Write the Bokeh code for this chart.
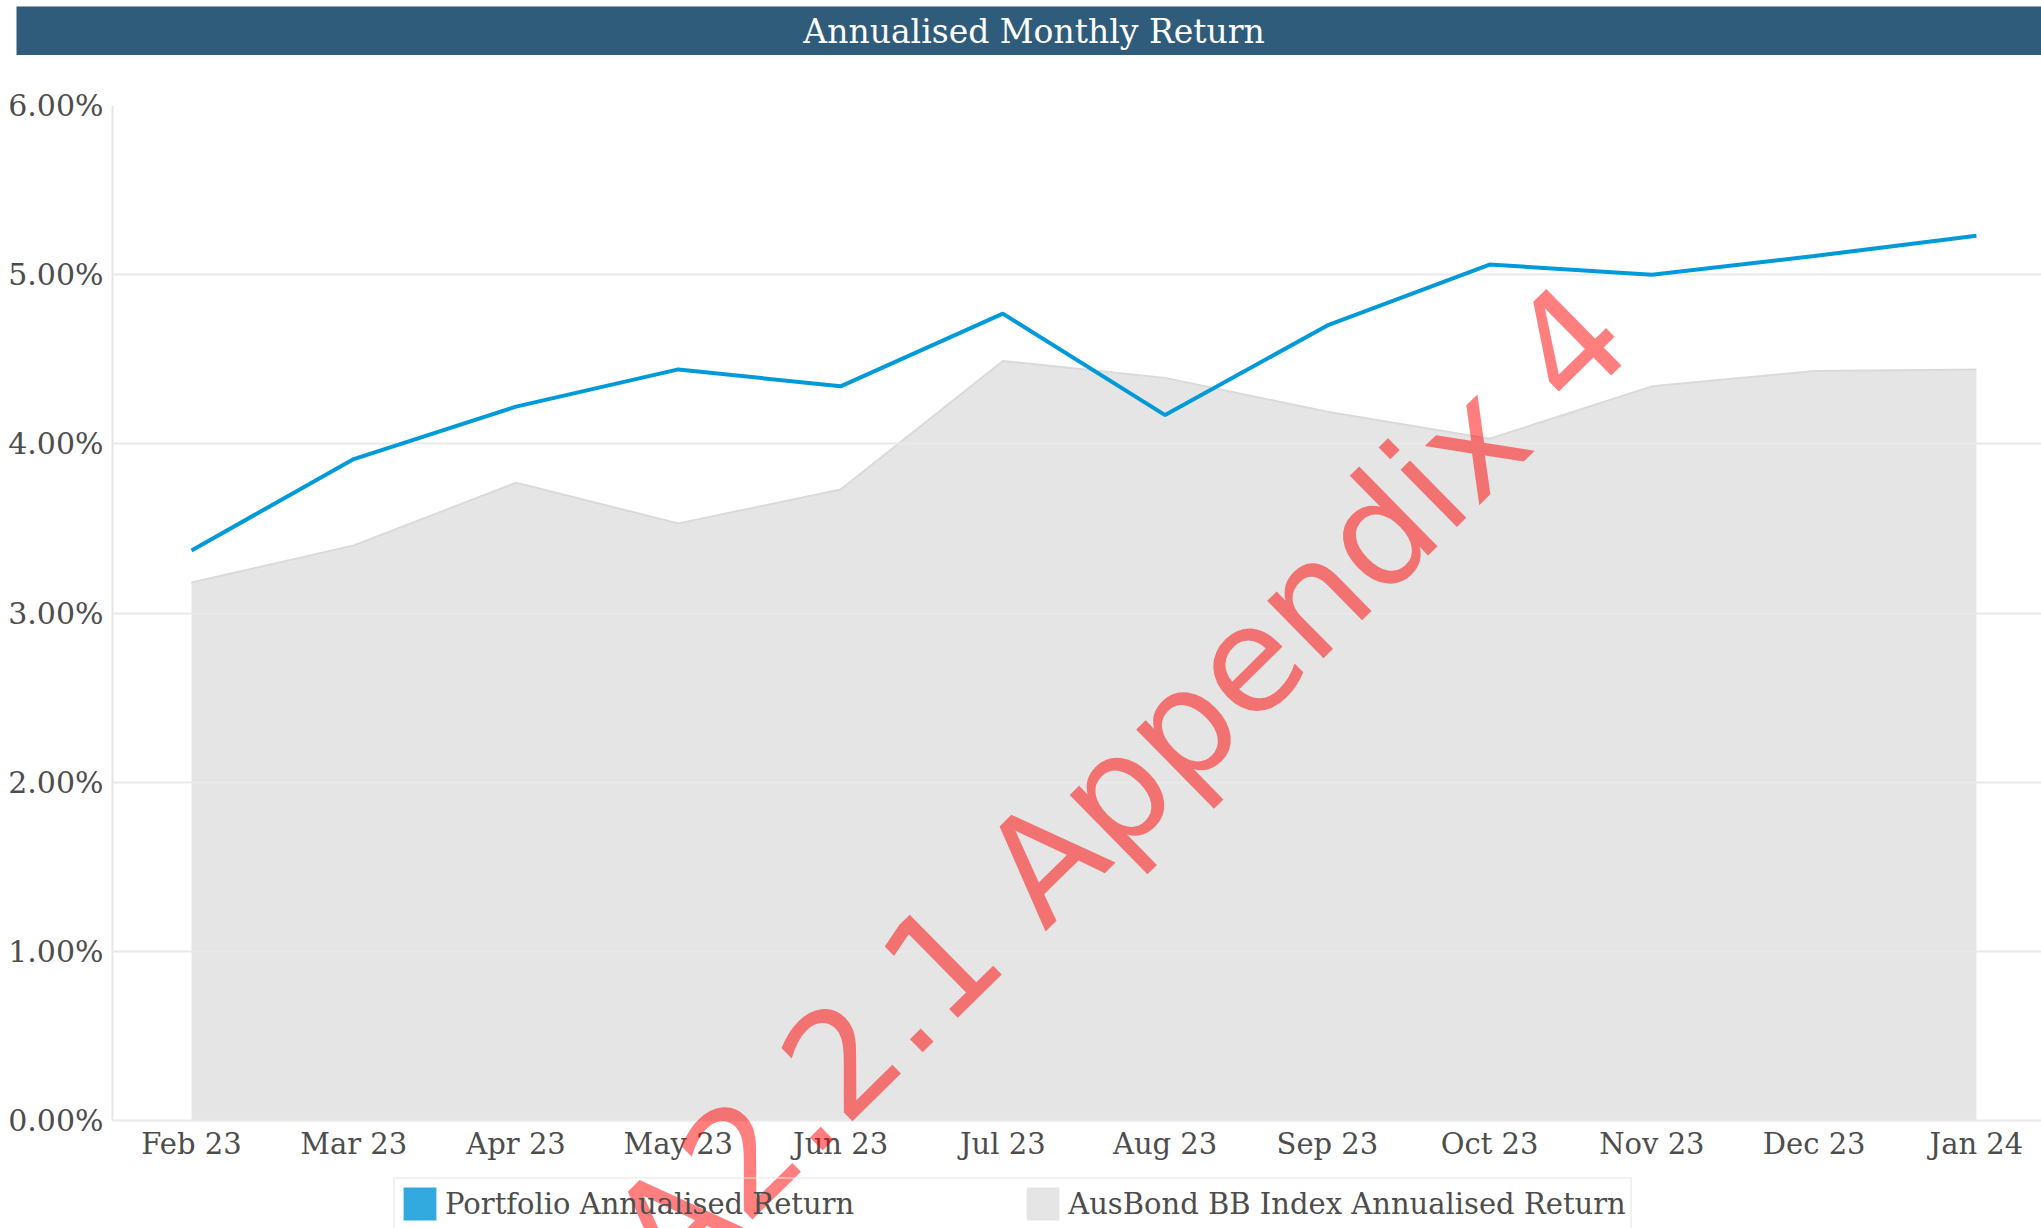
from bokeh.plotting import figure
from bokeh.layouts import column
from bokeh.models import (ColumnDataSource, FixedTicker, Legend, LegendItem, Label, Range1d)
from bokeh.core.properties import value
from bokeh.embed import file_html
from bokeh.resources import INLINE

# ---------------- data ----------------
title_text = "Annualised Monthly Return"
months = ["Feb 23", "Mar 23", "Apr 23", "May 23", "Jun 23", "Jul 23",
          "Aug 23", "Sep 23", "Oct 23", "Nov 23", "Dec 23", "Jan 24"]
portfolio = [3.37, 3.91, 4.22, 4.44, 4.34, 4.77, 4.17, 4.70, 5.06, 5.00, 5.11, 5.23]
ausbond = [3.18, 3.40, 3.77, 3.53, 3.73, 4.49, 4.39, 4.19, 4.03, 4.34, 4.43, 4.44]
y_ticks = [0, 1, 2, 3, 4, 5, 6]
y_labels = ["0.00%", "1.00%", "2.00%", "3.00%", "4.00%", "5.00%", "6.00%"]
series_names = ["Portfolio Annualised Return", "AusBond BB Index Annualised Return"]
watermark = "A2.2.1 Appendix 4"

xs = list(range(len(months)))
src = ColumnDataSource(dict(x=xs, port=portfolio, aus=ausbond, zero=[0] * len(xs)))

SERIF = "DejaVu Serif"
TXT = "#4d4d4d"
BAR = "#2f5c7a"

# ---------------- title bar ----------------
bar = figure(width=2025, height=49, x_range=(0, 1), y_range=(0, 1),
             toolbar_location=None, output_backend="svg",
             x_axis_location=None, y_axis_location=None,
             min_border=0, margin=(6, 0, 0, 16))
try:
    bar.frame_align = False
except Exception:
    pass
bar.background_fill_color = BAR
bar.border_fill_color = BAR
bar.outline_line_color = None
bar.grid.visible = False
bar.text(x=[0.5025], y=[0.5], text=[title_text], text_align="center",
         text_baseline="middle", text_color="white",
         text_font=value(SERIF), text_font_size="33px")

# ---------------- main chart ----------------
p = figure(width=2041, height=1173, toolbar_location=None, output_backend="svg",
           x_range=Range1d(-0.487, 11.401), y_range=Range1d(-0.638, 6),
           x_axis_location="above",
           min_border_left=112, min_border_right=0, min_border_top=50,
           min_border_bottom=0)
try:
    p.frame_align = False
except Exception:
    pass
p.background_fill_color = "white"
p.border_fill_color = "white"
p.outline_line_color = None

# benchmark area
area = p.varea(x="x", y1="zero", y2="aus", source=src, fill_color="#e5e5e5")
p.line(x="x", y="aus", source=src, line_color="#dadada", line_width=2)

# zero-height area used only for the square legend swatch of the portfolio
swatch = p.varea(x="x", y1="port", y2="port", source=src, fill_color="#33aadf")

# portfolio line
pl = p.line(x="x", y="port", source=src, line_color="#009ad8", line_width=4)
pl.level = "annotation"

# axes
xa = p.xaxis[0]
ya = p.yaxis[0]
xa.ticker = FixedTicker(ticks=xs)
xa.major_label_overrides = {i: m for i, m in zip(xs, months)}
xa.fixed_location = 0
ya.ticker = FixedTicker(ticks=y_ticks)
ya.major_label_overrides = {t: l for t, l in zip(y_ticks, y_labels)}
for ax in (xa, ya):
    ax.major_tick_line_color = None
    ax.minor_tick_line_color = None
    ax.major_tick_out = 0
    ax.minor_tick_out = 0
    ax.major_label_text_font = SERIF
    ax.major_label_text_color = TXT
xa.axis_line_color = None
xa.major_label_text_font_size = "29px"
xa.major_label_standoff = -40
ya.axis_line_color = "#e6e6e6"
ya.axis_line_width = 2
ya.bounds = (0, 6)
ya.major_label_text_font_size = "30px"
ya.major_label_standoff = 9

p.xgrid.visible = False
p.ygrid.grid_line_color = "#e9e9e9"
p.ygrid.grid_line_width = 2
p.ygrid.level = "guide"

legend = Legend(items=[LegendItem(label=series_names[0], renderers=[swatch]),
                       LegendItem(label=series_names[1], renderers=[area])],
                orientation="horizontal", location=(281, -2),
                glyph_width=41, glyph_height=41, label_standoff=5, spacing=168,
                padding=4, margin=0,
                label_text_font=SERIF, label_text_font_size="29px",
                label_text_color=TXT,
                border_line_color="#e6e6e6", border_line_width=2,
                background_fill_color="white", background_fill_alpha=0)
legend.level = "underlay"
p.add_layout(legend, "center")

# watermark (drawn above everything, including the legend)
wm = Label(x=2.749, y=-0.833, text=watermark, angle=44.5, angle_units="deg",
           text_font="DejaVu Sans", text_font_size="147px",
           text_color="red", text_alpha=0.5, text_align="left",
           text_baseline="middle", level="overlay")
p.add_layout(wm)

layout = column(bar, p, spacing=0)
open("out.html", "w").write(file_html(layout, INLINE))
